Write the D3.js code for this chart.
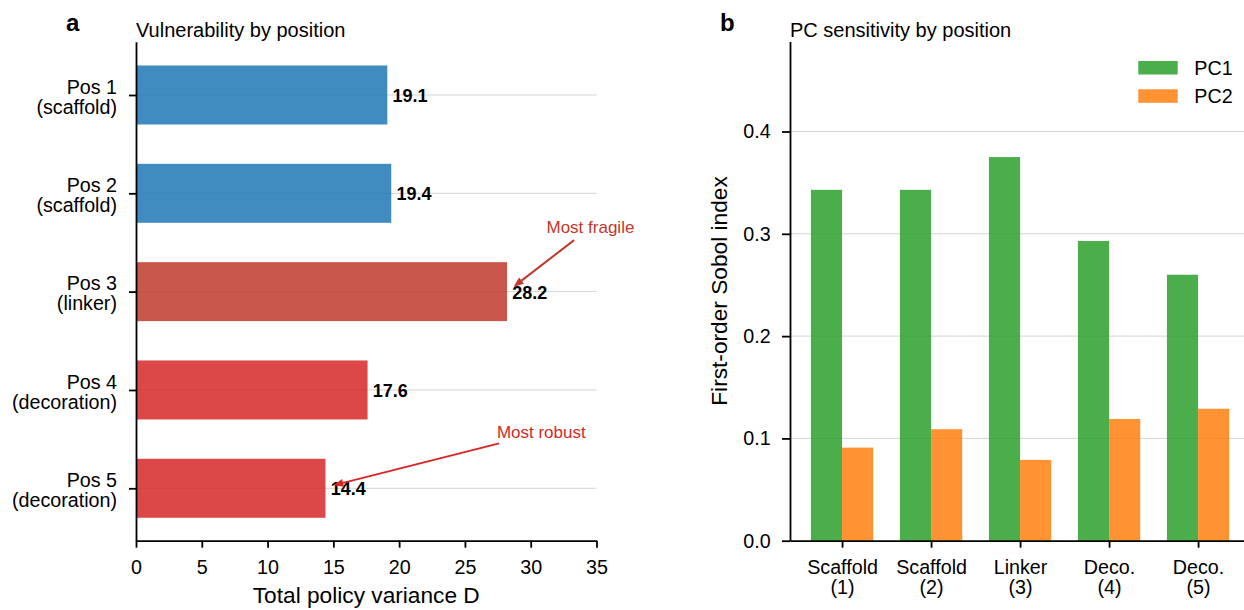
<!DOCTYPE html>
<html>
<head>
<meta charset="utf-8">
<script src="https://cdn.jsdelivr.net/npm/d3@7"></script>
<style>
  body { margin: 0; background: #fff; }
  svg { display: block; font-family: "Liberation Sans", Arial, sans-serif; }
</style>
</head>
<body>
<div id="chart"></div>
<script>
// panel a data
const posNames = ["Pos 1", "Pos 2", "Pos 3", "Pos 4", "Pos 5"];
const posRoles = ["(scaffold)", "(scaffold)", "(linker)", "(decoration)", "(decoration)"];
const variance = [19.1, 19.4, 28.2, 17.6, 14.4];
const varTicks = [0, 5, 10, 15, 20, 25, 30, 35];

// panel b data
const groupNames = ["Scaffold", "Scaffold", "Linker", "Deco.", "Deco."];
const groupIds = ["(1)", "(2)", "(3)", "(4)", "(5)"];
const pc1 = [0.343, 0.343, 0.375, 0.293, 0.260];
const pc2 = [0.091, 0.109, 0.079, 0.119, 0.129];
const seriesNames = ["PC1", "PC2"];
const sobolTicks = [0, 0.1, 0.2, 0.3, 0.4];

const W = 1244, H = 610;
const FONT = 19.7;
const roleColor = { "(scaffold)": "#1f77b4", "(linker)": "#c0392b", "(decoration)": "#d62728" };
const seriesColor = ["#2ca02c", "#ff7f0e"];
const gridColor = "#d4d4d4";

const svg = d3.select("#chart").append("svg")
  .attr("width", W).attr("height", H);

function styleAxis(g) {
  g.select(".domain").attr("stroke", "#000").attr("stroke-width", 1.8);
  g.selectAll(".tick line").attr("stroke", "#000").attr("stroke-width", 1.8);
  g.selectAll(".tick text").attr("fill", "#000").style("font-size", FONT + "px")
    .style("font-family", '"Liberation Sans", Arial, sans-serif');
}

function arrow(g, x0, y0, x1, y1, color) {
  // line with a filled head ending at (x1, y1)
  const dx = x1 - x0, dy = y1 - y0, len = Math.hypot(dx, dy);
  const ux = dx / len, uy = dy / len;
  const hl = 10, hw = 4;
  const bx = x1 - ux * hl, by = y1 - uy * hl;
  g.append("line").attr("x1", x0).attr("y1", y0).attr("x2", bx).attr("y2", by)
    .attr("stroke", color).attr("stroke-width", 2);
  g.append("path")
    .attr("d", `M${x1},${y1}L${bx - uy * hw},${by + ux * hw}L${bx + uy * hw},${by - ux * hw}Z`)
    .attr("fill", color);
}

// ---------------- panel a ----------------
const xA = d3.scaleLinear().domain([0, 35]).range([136, 596.5]);
const yA = d3.scaleLinear().domain([-0.542, 4.533]).range([41.7, 540.7]);
const barH = 0.6;

const pa = svg.append("g");

// gridlines at every category
pa.append("g").selectAll("line").data(posNames).join("line")
  .attr("x1", xA(0)).attr("x2", xA(35))
  .attr("y1", (d, i) => yA(i)).attr("y2", (d, i) => yA(i))
  .attr("stroke", gridColor).attr("stroke-width", 1);

pa.append("g").selectAll("rect").data(variance).join("rect")
  .attr("x", xA(0))
  .attr("y", (d, i) => yA(i - barH / 2))
  .attr("width", d => xA(d) - xA(0))
  .attr("height", yA(barH) - yA(0))
  .attr("fill", (d, i) => roleColor[posRoles[i]])
  .attr("fill-opacity", 0.85);

pa.append("g").selectAll("text").data(variance).join("text")
  .attr("x", d => xA(d + 0.4))
  .attr("y", (d, i) => yA(i) + 7)
  .style("font-size", "18px").style("font-weight", "bold")
  .text(d => d.toFixed(1));

const axA = pa.append("g").attr("transform", `translate(0,${yA(4.533)})`)
  .call(d3.axisBottom(xA).tickValues(varTicks).tickFormat(d3.format("d"))
    .tickSize(7).tickSizeOuter(0).tickPadding(12.5));
styleAxis(axA);

const ayA = pa.append("g").attr("transform", `translate(${xA(0)},0)`)
  .call(d3.axisLeft(yA).tickValues([0, 1, 2, 3, 4]).tickSize(7).tickSizeOuter(0).tickFormat(""));
styleAxis(ayA);
ayA.selectAll(".tick").each(function (i) {
  const t = d3.select(this).append("text")
    .attr("text-anchor", "end").attr("fill", "#000")
    .style("font-size", FONT + "px");
  t.append("tspan").attr("x", -19).attr("y", -1.7).text(posNames[i]);
  t.append("tspan").attr("x", -19).attr("y", 18.3).text(posRoles[i]);
});

pa.append("text").attr("x", (xA(0) + xA(35)) / 2).attr("y", 603)
  .attr("text-anchor", "middle").style("font-size", "22.7px")
  .text("Total policy variance D");

pa.append("text").attr("x", 136).attr("y", 37).style("font-size", "20px")
  .text("Vulnerability by position");
pa.append("text").attr("x", 66).attr("y", 30.5).style("font-size", "24px")
  .style("font-weight", "bold").text("a");

// annotations
const notes = [
  { text: "Most fragile", color: "#c0392b", tip: [28.7, 1.95], at: [31.2, 1.404] },
  { text: "Most robust", color: "#d62728", tip: [15.0, 3.97], at: [27.43, 3.49] }
];
notes.forEach(n => {
  const t = pa.append("text").attr("x", xA(n.at[0])).attr("y", yA(n.at[1]))
    .attr("fill", n.color).style("font-size", "17px").text(n.text);
  const b = t.node().getBBox();
  const cx = b.x + b.width / 2, cy = b.y + b.height / 2;
  const tx = xA(n.tip[0]), ty = yA(n.tip[1]);
  const dx = tx - cx, dy = ty - cy;
  const s = Math.min((b.width / 2) / Math.abs(dx), (b.height / 2) / Math.abs(dy));
  const len = Math.hypot(dx, dy);
  const k = s + 5 / len;
  arrow(pa, cx + dx * k, cy + dy * k, tx, ty, n.color);
});

// ---------------- panel b ----------------
const xB = d3.scaleLinear().domain([-0.585, 4.585]).range([790, 790 + 5.17 * 89]);
const yB = d3.scaleLinear().domain([0, 0.488]).range([540.7, 41.5]);
const bw = 0.35;

const pb = svg.append("g");

pb.append("g").selectAll("line").data(sobolTicks.slice(1)).join("line")
  .attr("x1", xB(-0.585)).attr("x2", xB(4.585))
  .attr("y1", d => yB(d)).attr("y2", d => yB(d))
  .attr("stroke", gridColor).attr("stroke-width", 1);

[pc1, pc2].forEach((vals, s) => {
  pb.append("g").selectAll("rect").data(vals).join("rect")
    .attr("x", (d, i) => xB(i + (s === 0 ? -bw : 0)))
    .attr("y", d => yB(d))
    .attr("width", xB(bw) - xB(0))
    .attr("height", d => yB(0) - yB(d))
    .attr("fill", seriesColor[s]).attr("fill-opacity", 0.85);
});

const axB = pb.append("g").attr("transform", `translate(0,${yB(0)})`)
  .call(d3.axisBottom(xB).tickValues([0, 1, 2, 3, 4]).tickSize(7).tickSizeOuter(0).tickFormat(""));
styleAxis(axB);
axB.selectAll(".tick").each(function (i) {
  const t = d3.select(this).append("text")
    .attr("text-anchor", "middle").attr("fill", "#000")
    .style("font-size", FONT + "px");
  t.append("tspan").attr("x", 0).attr("y", 33.3).text(groupNames[i]);
  t.append("tspan").attr("x", 0).attr("y", 53.3).text(groupIds[i]);
});

const ayB = pb.append("g").attr("transform", `translate(${xB(-0.585)},0)`)
  .call(d3.axisLeft(yB).tickValues(sobolTicks).tickFormat(d3.format(".1f"))
    .tickSize(8).tickSizeOuter(0).tickPadding(11.3));
styleAxis(ayB);

pb.append("text").attr("transform", `translate(727,291) rotate(-90)`)
  .attr("text-anchor", "middle").style("font-size", "22.7px")
  .text("First-order Sobol index");

pb.append("text").attr("x", 790).attr("y", 36.7).style("font-size", "20px")
  .text("PC sensitivity by position");
pb.append("text").attr("x", 720).attr("y", 30.5).style("font-size", "24px")
  .style("font-weight", "bold").text("b");

const lg = pb.append("g").selectAll("g").data(seriesNames).join("g")
  .attr("transform", (d, i) => `translate(1138.3,${61 + i * 28.3})`);
lg.append("rect").attr("width", 39.4).attr("height", 13.5)
  .attr("fill", (d, i) => seriesColor[i]).attr("fill-opacity", 0.85);
lg.append("text").attr("x", 56).attr("y", 14).style("font-size", FONT + "px").text(d => d);
</script>
</body>
</html>
